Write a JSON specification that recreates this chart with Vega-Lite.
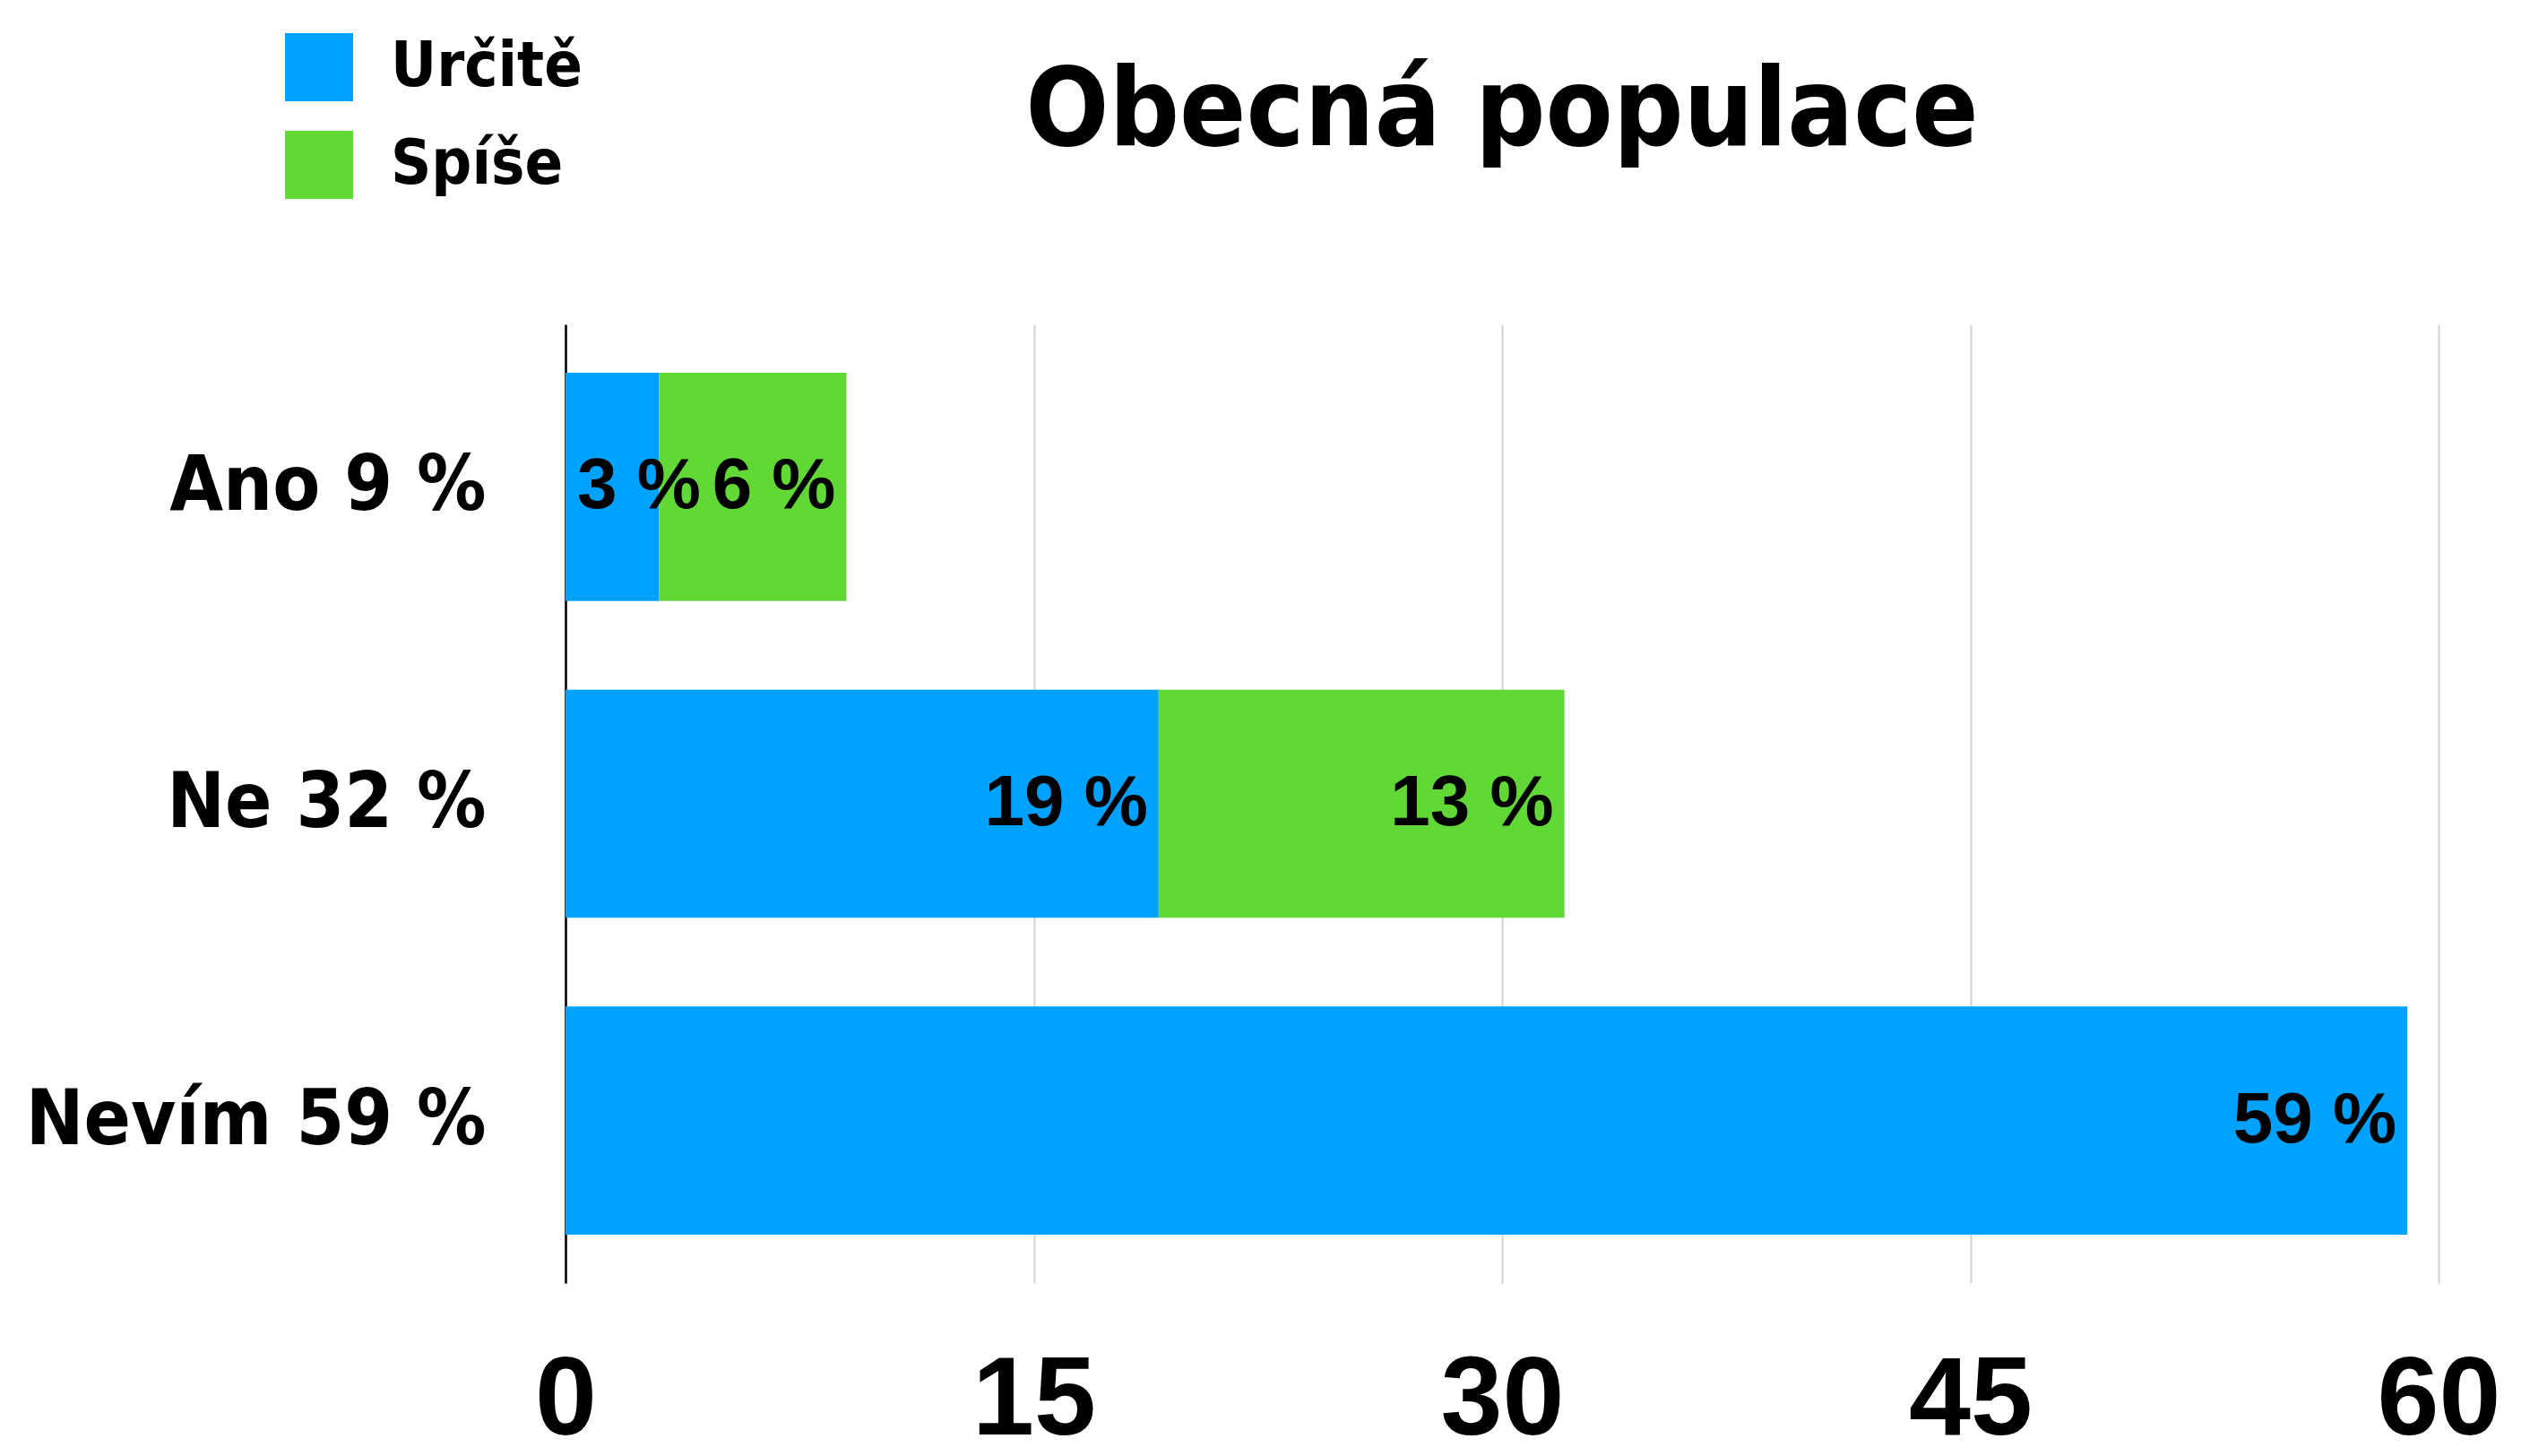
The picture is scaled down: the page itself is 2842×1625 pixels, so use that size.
{
  "$schema": "https://vega.github.io/schema/vega-lite/v6.json",
  "autosize": {"type": "none"},
  "padding": {"left": 631, "top": 362, "right": 121, "bottom": 193},
  "width": 2090,
  "height": 1070,
  "background": "white",
  "config": {"view": {"stroke": null}},
  "title": {
    "text": "Obecná populace",
    "font": "DejaVu Sans Condensed, sans-serif",
    "fontWeight": "bold",
    "fontSize": 122,
    "color": "black",
    "frame": "group",
    "anchor": "middle",
    "baseline": "alphabetic",
    "offset": -247
  },
  "data": {
    "values": [
      {"q": "Ano 9 %", "cat": "Určitě", "ord": 1, "v": 3, "start": 0, "end": 3, "label": "3 %", "side": "left"},
      {"q": "Ano 9 %", "cat": "Spíše", "ord": 2, "v": 6, "start": 3, "end": 9, "label": "6 %", "side": "right"},
      {"q": "Ne 32 %", "cat": "Určitě", "ord": 1, "v": 19, "start": 0, "end": 19, "label": "19 %", "side": "right"},
      {"q": "Ne 32 %", "cat": "Spíše", "ord": 2, "v": 13, "start": 19, "end": 32, "label": "13 %", "side": "right"},
      {"q": "Nevím 59 %", "cat": "Určitě", "ord": 1, "v": 59, "start": 0, "end": 59, "label": "59 %", "side": "right"}
    ]
  },
  "encoding": {
    "y": {
      "field": "q",
      "type": "nominal",
      "sort": ["Ano 9 %", "Ne 32 %", "Nevím 59 %"],
      "scale": {"paddingInner": 0.28, "paddingOuter": 0.153},
      "axis": {
        "title": null,
        "ticks": false,
        "domain": true,
        "domainColor": "black",
        "domainWidth": 2.5,
        "labelFont": "DejaVu Sans Condensed, sans-serif",
        "labelFontWeight": "bold",
        "labelFontSize": 86,
        "labelColor": "black",
        "labelPadding": 89,
        "labelLimit": 1000,
        "grid": false
      }
    }
  },
  "layer": [
    {
      "mark": {"type": "bar"},
      "encoding": {
        "x": {
          "field": "start",
          "type": "quantitative",
          "scale": {"domain": [0, 60], "nice": false},
          "axis": {
            "title": null,
            "values": [0, 15, 30, 45, 60],
            "domain": false,
            "ticks": false,
            "grid": true,
            "gridColor": "#d3d3d3",
            "gridWidth": 2,
            "labelFont": "Liberation Sans",
            "labelFontWeight": "bold",
            "labelFontSize": 124,
            "labelColor": "black",
            "labelPadding": 70,
            "labelFlush": false
          }
        },
        "x2": {"field": "end"},
        "order": {"field": "ord"},
        "color": {
          "field": "cat",
          "type": "nominal",
          "scale": {"domain": ["Určitě", "Spíše"], "range": ["#00A2FF", "#61D836"]},
          "legend": {
            "title": null,
            "orient": "none",
            "legendX": -313,
            "legendY": -325,
            "symbolType": "square",
            "symbolSize": 5776,
            "symbolStrokeWidth": 0,
            "symbolOpacity": 1,
            "labelFont": "DejaVu Sans Condensed, sans-serif",
            "labelFontWeight": "bold",
            "labelFontSize": 70,
            "labelColor": "black",
            "labelOffset": 42,
            "rowPadding": 33,
            "padding": 0,
            "labelLimit": 500
          }
        }
      }
    },
    {
      "transform": [{"filter": "datum.side === 'right'"}],
      "mark": {
        "type": "text",
        "align": "right",
        "baseline": "middle",
        "dx": -12,
        "font": "Liberation Sans",
        "fontWeight": "bold",
        "fontSize": 80,
        "color": "black"
      },
      "encoding": {
        "x": {"field": "end", "type": "quantitative"},
        "text": {"field": "label"}
      }
    },
    {
      "transform": [{"filter": "datum.side === 'left'"}],
      "mark": {
        "type": "text",
        "align": "left",
        "baseline": "middle",
        "dx": 13,
        "font": "Liberation Sans",
        "fontWeight": "bold",
        "fontSize": 80,
        "color": "black"
      },
      "encoding": {
        "x": {"field": "start", "type": "quantitative"},
        "text": {"field": "label"}
      }
    }
  ]
}
